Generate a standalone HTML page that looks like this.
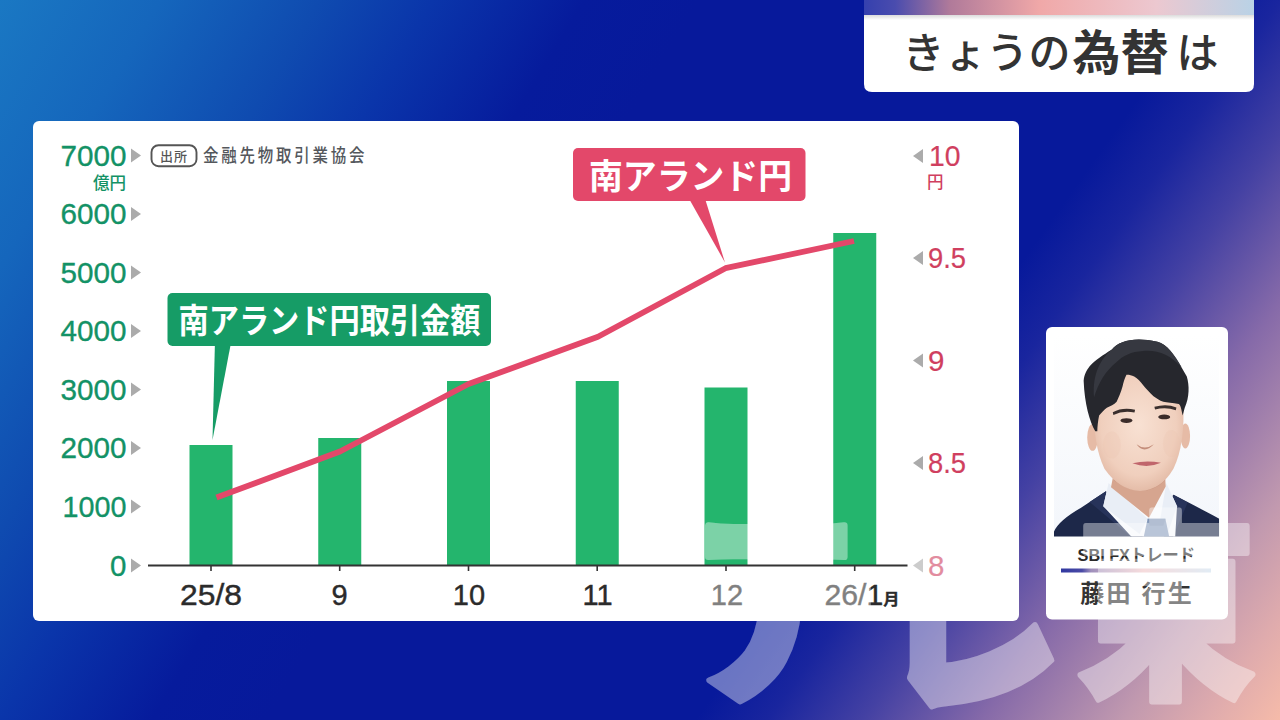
<!DOCTYPE html>
<html lang="ja">
<head>
<meta charset="utf-8">
<title>きょうの為替は</title>
<style>
  html, body { margin: 0; padding: 0; }
  body {
    width: 1280px; height: 720px; overflow: hidden; position: relative;
    background: #07199b;
    font-family: "Liberation Sans", "Noto Sans CJK JP", sans-serif;
  }
  svg { position: absolute; left: 0; top: 0; display: block; }
  text { font-family: "Liberation Sans", "Noto Sans CJK JP", sans-serif; }
  .jp { font-family: "Liberation Sans", "Noto Sans CJK JP", sans-serif; }
  .yl { font-size: 29.5px; fill: #139266; stroke: #139266; stroke-width: 0.35px; text-anchor: end; }
  .yr { font-size: 29.5px; fill: #d03f5f; stroke: #d03f5f; stroke-width: 0.2px; text-anchor: start; }
  .xl { font-size: 29px; fill: #2b2b2b; stroke: #2b2b2b; stroke-width: 0.4px; text-anchor: middle; }
</style>
</head>
<body>
<svg width="1280" height="720" viewBox="0 0 1280 720">
  <defs>
    <linearGradient id="bg" gradientUnits="userSpaceOnUse" x1="0" y1="0" x2="514" y2="309">
      <stop offset="0" stop-color="#1a78c3"/>
      <stop offset="0.23" stop-color="#1566bc"/>
      <stop offset="0.457" stop-color="#0f4bb0"/>
      <stop offset="0.62" stop-color="#0a35aa"/>
      <stop offset="0.835" stop-color="#061b9c"/>
      <stop offset="1" stop-color="#07199b"/>
    </linearGradient>
    <linearGradient id="bg2" gradientUnits="userSpaceOnUse" x1="801" y1="570" x2="1190.7" y2="847.4">
      <stop offset="0" stop-color="#07199b" stop-opacity="0"/>
      <stop offset="0.002" stop-color="#07199b" stop-opacity="1"/>
      <stop offset="0.125" stop-color="#19259e"/>
      <stop offset="0.287" stop-color="#4441a3"/>
      <stop offset="0.49" stop-color="#866aa9"/>
      <stop offset="0.73" stop-color="#c199af"/>
      <stop offset="0.87" stop-color="#dfabad"/>
      <stop offset="1" stop-color="#f6bba9"/>
    </linearGradient>
    <linearGradient id="strip" x1="0" y1="0" x2="1" y2="0">
      <stop offset="0" stop-color="#3540ae"/>
      <stop offset="0.08" stop-color="#4a4cae"/>
      <stop offset="0.22" stop-color="#b07a9a"/>
      <stop offset="0.45" stop-color="#f0a8a8"/>
      <stop offset="0.75" stop-color="#ecc8d0"/>
      <stop offset="1" stop-color="#b9d2e6"/>
    </linearGradient>
    <linearGradient id="shd" x1="0" y1="0" x2="0" y2="1">
      <stop offset="0" stop-color="#000" stop-opacity="0.14"/>
      <stop offset="1" stop-color="#000" stop-opacity="0"/>
    </linearGradient>
    <linearGradient id="sep" x1="0" y1="0" x2="1" y2="0">
      <stop offset="0" stop-color="#3038a0"/>
      <stop offset="0.14" stop-color="#4a4aa6"/>
      <stop offset="0.2" stop-color="#a090bc"/>
      <stop offset="0.55" stop-color="#f0c4c6"/>
      <stop offset="1" stop-color="#cfe0ee"/>
    </linearGradient>
  </defs>

  <!-- background -->
  <rect x="0" y="0" width="1280" height="720" fill="url(#bg)"/>
  <rect x="0" y="0" width="1280" height="720" fill="url(#bg2)"/>

  <!-- title box -->
  <path d="M864 0 H1254 V84 Q1254 92 1246 92 H872 Q864 92 864 84 Z" fill="#ffffff"/>
  <rect x="864" y="15" width="390" height="5" fill="url(#shd)"/>
  <rect x="864" y="0" width="390" height="15" fill="url(#strip)"/>
  <text x="902.5" y="68" class="jp" font-size="42" fill="#333333" font-weight="500">きょうの</text>
  <text x="1072.5" y="69.8" class="jp" font-size="48" fill="#333333" font-weight="700">為替</text>
  <text x="1176.5" y="68" class="jp" font-size="42" fill="#333333" font-weight="500">は</text>

  <!-- chart panel -->
  <rect x="33" y="121" width="986" height="500" rx="6" ry="6" fill="#ffffff"/>

  <!-- bars -->
  <g fill="#24b56d">
    <rect x="189.5" y="445" width="43" height="120.5"/>
    <rect x="318.25" y="438" width="43" height="127.5"/>
    <rect x="447" y="381" width="43" height="184.5"/>
    <rect x="575.75" y="381" width="43" height="184.5"/>
    <rect x="704.5" y="387.5" width="43" height="178"/>
    <rect x="833.25" y="233" width="43" height="332.5"/>
  </g>

  <!-- axis -->
  <rect x="148" y="564.5" width="759.5" height="2" fill="#333"/>
  <g fill="#333">
    <rect x="210.2" y="566" width="1.6" height="5"/>
    <rect x="338.9" y="566" width="1.6" height="5"/>
    <rect x="467.7" y="566" width="1.6" height="5"/>
    <rect x="596.4" y="566" width="1.6" height="5"/>
    <rect x="725.2" y="566" width="1.6" height="5"/>
    <rect x="853.9" y="566" width="1.6" height="5"/>
  </g>

  <!-- line -->
  <polyline points="216.5,497.5 340,451.5 468.5,384 598,336.7 725.5,268.2 854,241" fill="none" stroke="#e3486a" stroke-width="5.8" stroke-linejoin="round" stroke-linecap="butt"/>

  <!-- left y labels -->
  <g class="yl">
    <text x="126.5" y="165.5" textLength="66" lengthAdjust="spacingAndGlyphs">7000</text>
    <text x="126.5" y="224" textLength="66" lengthAdjust="spacingAndGlyphs">6000</text>
    <text x="126.5" y="282.5" textLength="66" lengthAdjust="spacingAndGlyphs">5000</text>
    <text x="126.5" y="341" textLength="66" lengthAdjust="spacingAndGlyphs">4000</text>
    <text x="126.5" y="399.5" textLength="66" lengthAdjust="spacingAndGlyphs">3000</text>
    <text x="126.5" y="458" textLength="66" lengthAdjust="spacingAndGlyphs">2000</text>
    <text x="126.5" y="516.5" textLength="64" lengthAdjust="spacingAndGlyphs">1000</text>
    <text x="126.5" y="575.5">0</text>
  </g>
  <text x="126" y="188.5" class="jp" font-size="16.5" fill="#139266" text-anchor="end" font-weight="500">億円</text>
  <g fill="#ababab">
    <path d="M131 148.5 L141 155.5 L131 162.5 Z"/>
    <path d="M131 207 L141 214 L131 221 Z"/>
    <path d="M131 265.5 L141 272.5 L131 279.5 Z"/>
    <path d="M131 324 L141 331 L131 338 Z"/>
    <path d="M131 382.5 L141 389.5 L131 396.5 Z"/>
    <path d="M131 441 L141 448 L131 455 Z"/>
    <path d="M131 499.5 L141 506.5 L131 513.5 Z"/>
    <path d="M131 558.5 L141 565.5 L131 572.5 Z"/>
  </g>

  <!-- source badge -->
  <rect x="151.5" y="145.2" width="45" height="21" rx="7" ry="7" fill="#fff" stroke="#555" stroke-width="1.9"/>
  <text x="174" y="161" class="jp" font-size="13" fill="#555" text-anchor="middle" font-weight="500" letter-spacing="1">出所</text>
  <text transform="translate(203,162.3) scale(0.86,1)" x="0" y="0" class="jp" font-size="18" fill="#54575c" font-weight="500" letter-spacing="3.25">金融先物取引業協会</text>

  <!-- right y labels -->
  <g class="yr">
    <text x="929" y="166" textLength="31.5" lengthAdjust="spacingAndGlyphs">10</text>
    <text x="928" y="268" textLength="38" lengthAdjust="spacingAndGlyphs">9.5</text>
    <text x="928" y="370.5">9</text>
    <text x="928" y="473" textLength="38" lengthAdjust="spacingAndGlyphs">8.5</text>
    <text x="928" y="575.5">8</text>
  </g>
  <text x="927" y="188.2" class="jp" font-size="16.5" fill="#d03f5f" font-weight="500">円</text>
  <g fill="#ababab">
    <path d="M923 149 L913 156 L923 163 Z"/>
    <path d="M923 251 L913 258 L923 265 Z"/>
    <path d="M923 353.5 L913 360.5 L923 367.5 Z"/>
    <path d="M923 456 L913 463 L923 470 Z"/>
    <path d="M923 558.5 L913 565.5 L923 572.5 Z"/>
  </g>

  <!-- x labels -->
  <g class="xl">
    <text x="211" y="604.6" textLength="62" lengthAdjust="spacingAndGlyphs">25/8</text>
    <text x="339.5" y="604.6">9</text>
    <text x="469" y="604.6">10</text>
    <text x="597.5" y="604.6">11</text>
    <text x="727" y="604.6">12</text>
    <text x="824.5" y="604.6" text-anchor="start" textLength="75" lengthAdjust="spacingAndGlyphs">26/1<tspan class="jp" font-size="15.5" font-weight="700">月</tspan></text>
  </g>

  <!-- green callout -->
  <path d="M215 340 L231.5 340 L212.5 440 Z" fill="#169c66"/>
  <rect x="167.5" y="293" width="323.5" height="53" rx="5" ry="5" fill="#169c66"/>
  <text x="178.5" y="333" class="jp" font-size="34" fill="#fff" font-weight="700" textLength="302" lengthAdjust="spacingAndGlyphs">南アランド円取引金額</text>

  <!-- pink callout -->
  <path d="M687.5 196 L704.2 196 L725 262.5 Z" fill="#e3486a"/>
  <rect x="573" y="148" width="232.5" height="53" rx="5" ry="5" fill="#e3486a"/>
  <text x="589" y="189" class="jp" font-size="35" fill="#fff" font-weight="700" textLength="203" lengthAdjust="spacingAndGlyphs">南アランド円</text>

  <!-- profile card -->
  <rect x="1046" y="327" width="182" height="292.5" rx="6" ry="6" fill="#ffffff"/>
  <g id="photo">
    <defs>
      <clipPath id="pc"><rect x="30" y="28" width="556" height="680"/></clipPath>
      <radialGradient id="skin" cx="0.5" cy="0.45" r="0.6">
        <stop offset="0" stop-color="#f8e1d3"/>
        <stop offset="0.7" stop-color="#f0cfbd"/>
        <stop offset="1" stop-color="#e0b5a0"/>
      </radialGradient>
      <linearGradient id="pbg" x1="0" y1="0" x2="0" y2="1">
        <stop offset="0" stop-color="#ffffff"/>
        <stop offset="1" stop-color="#f3f6fb"/>
      </linearGradient>
    </defs>
    <g transform="translate(1045,326) scale(0.2973)" clip-path="url(#pc)">
      <rect x="30" y="28" width="556" height="680" fill="url(#pbg)"/>
      <!-- suit -->
      <path d="M205 556 L120 612 Q45 655 30 692 L30 710 L586 710 L586 648 Q530 618 432 568 L320 700 Z" fill="#1d2849"/>
      <path d="M205 556 L150 592 L290 710 L330 710 Z" fill="#27335a"/>
      <path d="M432 568 L480 594 L430 710 L400 710 Z" fill="#27335a"/>
      <!-- shirt -->
      <path d="M214 528 L196 606 L292 710 L438 710 L444 606 L408 528 L330 600 Z" fill="#f7f9fc"/>
      <path d="M214 528 L196 606 L318 700 L345 648 Z" fill="#e9eef6"/>
      <path d="M408 528 L444 606 L412 700 L388 648 Z" fill="#e9eef6"/>
      <!-- tie -->
      <path d="M345 648 L405 648 L418 710 L332 710 Z" fill="#8b9fbe"/>
      <path d="M345 648 L405 648 L398 672 L352 672 Z" fill="#7f93b4"/>
      <!-- neck -->
      <path d="M236 470 L402 470 L406 540 L350 645 L222 542 Z" fill="#d6a58f"/>
      <path d="M236 470 L402 470 L404 520 Q330 590 232 520 Z" fill="#c99681"/>
      <!-- ears -->
      <ellipse cx="160" cy="375" rx="18" ry="45" fill="#e6bba6"/>
      <ellipse cx="472" cy="370" rx="16" ry="42" fill="#e6bba6"/>
      <!-- face -->
      <path d="M165 250 Q160 400 200 480 Q250 552 320 555 Q390 552 432 480 Q472 400 465 250 Q400 150 300 150 Q200 160 165 250 Z" fill="url(#skin)"/>
      <!-- hair -->
      <path d="M169 354 C150 321 133 262 130 184 C135 140 162 118 225 79 C250 50 300 36 378 53 C410 60 437 98 477 170 C486 200 486 240 470 275 L463 301 L460 288 C458 275 455 265 450 262 C430 258 410 258 398 255 C385 250 375 243 365 236 C350 222 340 212 333 203 C320 185 310 175 300 170 C290 165 280 163 274 164 C268 175 264 190 261 203 C255 225 248 240 241 255 C232 265 220 270 208 275 C198 282 190 292 182 301 C178 320 176 340 176 354 Z" fill="#26272d"/>
      <path d="M225 79 C250 50 300 36 378 53 C410 60 437 98 460 140 C420 95 380 80 330 84 C290 86 262 100 240 122 C205 150 180 190 165 240 C160 180 175 120 225 79 Z" fill="#363840"/>
      <!-- brows -->
      <path d="M228 290 Q262 272 303 282 L301 291 Q262 284 230 299 Z" fill="#3a2f2d"/>
      <path d="M368 272 Q408 260 442 274 L440 283 Q406 272 370 281 Z" fill="#3a2f2d"/>
      <!-- eyes -->
      <ellipse cx="274" cy="318" rx="20" ry="8" fill="#3b2c2a"/>
      <ellipse cx="401" cy="306" rx="20" ry="8" fill="#3b2c2a"/>
      <!-- cheeks shading -->
      <ellipse cx="225" cy="400" rx="30" ry="45" fill="#ecc2b0" opacity="0.25"/>
      <ellipse cx="425" cy="395" rx="28" ry="45" fill="#ecc2b0" opacity="0.25"/>
      <!-- nose -->
      <path d="M308 398 Q335 420 366 398 Q352 414 335 415 Q318 414 308 398 Z" fill="#c48e7b"/>
      <!-- mouth -->
      <path d="M294 462 Q340 450 390 460 Q345 480 294 462 Z" fill="#c0666c"/>
    </g>
  </g>
  <text x="1136.3" y="561" class="jp" font-size="17" fill="#2a2a2a" text-anchor="middle" font-weight="700" textLength="117.5" lengthAdjust="spacingAndGlyphs">SBI FXトレード</text>
  <rect x="1061" y="568.5" width="150" height="4" fill="url(#sep)"/>
  <text x="1136" y="602" class="jp" font-size="24" fill="#333" text-anchor="middle" font-weight="700" textLength="111.5" lengthAdjust="spacing">藤田 行生</text>

  <!-- watermark -->
  <g id="wm" fill="#ffffff" stroke="#ffffff" stroke-width="6" stroke-linejoin="round" opacity="0.4" class="jp" font-size="200" font-weight="900">
    <text transform="translate(666.5,685.5) scale(1.077,1.02)" x="0" y="0">テ</text>
    <text transform="translate(876.3,677.5) scale(0.93,1.059) skewY(15)" x="0" y="0">レ</text>
    <text transform="translate(1076.2,682) scale(0.898,1.0)" x="0" y="0">東</text>
  </g>
</svg>
</body>
</html>
